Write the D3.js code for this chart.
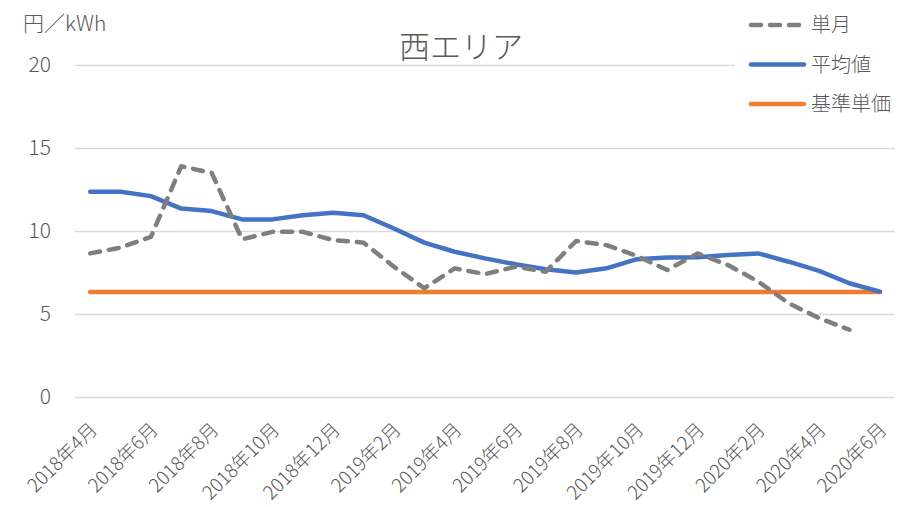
<!DOCTYPE html>
<html>
<head>
<meta charset="utf-8">
<script src="https://cdn.jsdelivr.net/npm/d3@7"></script>
<style>
  body { margin: 0; background: #fff; }
  text { font-family: "Noto Sans CJK JP", "Noto Sans", sans-serif; fill: #595959; }
</style>
</head>
<body>
<div id="chart"></div>
<script>
var months = ["2018年4月", "2018年5月", "2018年6月", "2018年7月", "2018年8月", "2018年9月",
    "2018年10月", "2018年11月", "2018年12月", "2019年1月", "2019年2月", "2019年3月",
    "2019年4月", "2019年5月", "2019年6月", "2019年7月", "2019年8月", "2019年9月",
    "2019年10月", "2019年11月", "2019年12月", "2020年1月", "2020年2月", "2020年3月",
    "2020年4月", "2020年5月", "2020年6月"];
var monthly = [8.65, 9.0, 9.65, 13.9, 13.5, 9.5, 9.95, 9.95, 9.45, 9.3, 7.85, 6.55,
    7.75, 7.4, 7.85, 7.55, 9.4, 9.15, 8.5, 7.65, 8.65, 7.95, 6.95, 5.65, 4.75, 4.05, null];
var average = [12.37, 12.37, 12.1, 11.35, 11.2, 10.7, 10.7, 10.95, 11.1, 10.95, 10.15, 9.3,
    8.75, 8.35, 8.0, 7.7, 7.5, 7.75, 8.3, 8.4, 8.42, 8.55, 8.65, 8.15, 7.6, 6.85, 6.35];
var basePrice = 6.33;
var yTicks = [0, 5, 10, 15, 20];
var seriesNames = ["単月", "平均値", "基準単価"];

var width = 903, height = 507,
    margins = { top: 65, right: 8, bottom: 110, left: 75 };

var svg = d3.select("#chart").append("svg")
    .attr("width", width)
    .attr("height", height);

var xScale = d3.scalePoint()
    .domain(months)
    .range([margins.left, width - margins.right])
    .padding(0.5);

var yScale = d3.scaleLinear()
    .domain([0, 20])
    .range([height - margins.bottom, margins.top]);

// gridlines + y labels
var yAxis = d3.axisLeft(yScale)
    .tickValues(yTicks)
    .tickSize(-(width - margins.left - margins.right))
    .tickPadding(24);

var yGuide = svg.append("g")
    .attr("transform", "translate(" + margins.left + ",0)")
    .call(yAxis);
yGuide.select(".domain").remove();
yGuide.selectAll("line").attr("stroke", "#d9d9d9").attr("stroke-width", 1.3);
yGuide.selectAll("text")
    .style("font-size", "21px")
    .style("font-weight", 300)
    .attr("fill", "#595959");

// x labels every 2 months
var xAxis = d3.axisBottom(xScale)
    .tickValues(months.filter(function (d, i) { return i % 2 === 0; }))
    .tickSize(0);

var xGuide = svg.append("g")
    .attr("transform", "translate(0," + (height - margins.bottom) + ")")
    .call(xAxis);
xGuide.select(".domain").remove();
xGuide.selectAll("text")
    .style("font-size", "19px")
    .style("font-weight", 300)
    .attr("fill", "#595959")
    .attr("text-anchor", "end")
    .attr("dy", "0.35em")
    .attr("transform", "translate(3,29) rotate(-45)")
    .attr("y", 0)
    .attr("x", 0);

// lines
var line = d3.line()
    .defined(function (d) { return d.v !== null; })
    .x(function (d) { return xScale(d.m); })
    .y(function (d) { return yScale(d.v); });

function pairs(values) {
    return months.map(function (m, i) { return { m: m, v: values[i] }; });
}

svg.append("path")
    .datum(pairs(months.map(function () { return basePrice; })))
    .attr("fill", "none")
    .attr("stroke", "#ed7d31")
    .attr("stroke-width", 4.5)
    .attr("stroke-linecap", "round")
    .attr("d", line);

svg.append("path")
    .datum(pairs(average))
    .attr("fill", "none")
    .attr("stroke", "#4472c4")
    .attr("stroke-width", 4.5)
    .attr("stroke-linecap", "round")
    .attr("stroke-linejoin", "round")
    .attr("d", line);

svg.append("path")
    .datum(pairs(monthly))
    .attr("fill", "none")
    .attr("stroke", "#7f7f7f")
    .attr("stroke-width", 4.5)
    .attr("stroke-linecap", "round")
    .attr("stroke-linejoin", "round")
    .attr("stroke-dasharray", "10,9")
    .attr("d", line);

// title and unit
svg.append("text")
    .attr("x", 461)
    .attr("y", 58)
    .attr("text-anchor", "middle")
    .style("font-size", "31px")
    .style("font-weight", 300)
    .text("西エリア");

svg.append("text")
    .attr("x", 23)
    .attr("y", 31)
    .style("font-size", "21px")
    .style("font-weight", 300)
    .text("円／kWh");

// legend
var legend = svg.append("g").attr("transform", "translate(735,0)");
legend.append("rect")
    .attr("x", 0).attr("y", 5)
    .attr("width", 168).attr("height", 115)
    .attr("fill", "#fff");

var legendStyles = [
    { color: "#7f7f7f", dash: "10,9" },
    { color: "#4472c4", dash: null },
    { color: "#ed7d31", dash: null }
];

var items = legend.selectAll("g.item")
    .data(seriesNames)
    .enter()
    .append("g")
    .attr("class", "item")
    .attr("transform", function (d, i) { return "translate(0," + (25 + i * 39.5) + ")"; });

items.append("line")
    .attr("x1", 16).attr("x2", 69)
    .attr("y1", 0).attr("y2", 0)
    .attr("stroke", function (d, i) { return legendStyles[i].color; })
    .attr("stroke-width", 4.5)
    .attr("stroke-linecap", "round")
    .attr("stroke-dasharray", function (d, i) { return legendStyles[i].dash; });

items.append("text")
    .attr("x", 76)
    .attr("y", 0)
    .attr("dy", "0.35em")
    .style("font-size", "20px")
    .style("font-weight", 300)
    .text(function (d) { return d; });
</script>
</body>
</html>
